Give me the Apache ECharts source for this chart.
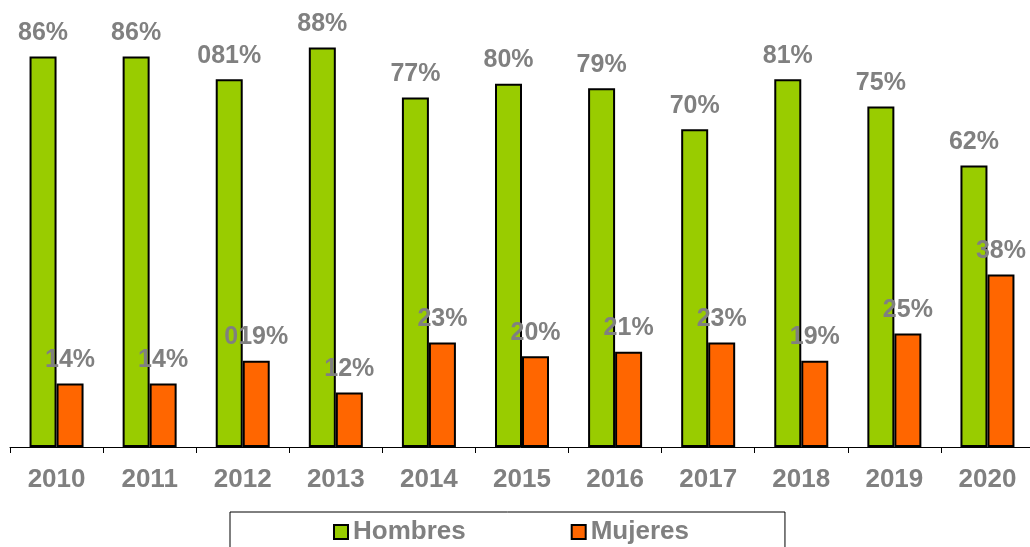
<!DOCTYPE html>
<html>
<head>
<meta charset="utf-8">
<script src="https://cdn.jsdelivr.net/npm/echarts@6/dist/echarts.min.js"></script>
<style>
  html, body { margin: 0; padding: 0; background: #fff; }
  #chart { width: 1030px; height: 547px; }
</style>
</head>
<body>
<div id="chart"></div>
<script>
// datos
var years = ["2010", "2011", "2012", "2013", "2014", "2015", "2016", "2017", "2018", "2019", "2020"];
var hombres = [86, 86, 81, 88, 77, 80, 79, 70, 81, 75, 62];
var mujeres = [14, 14, 19, 12, 23, 20, 21, 23, 19, 25, 38];
var hombresLabels = ["86%", "86%", "081%", "88%", "77%", "80%", "79%", "70%", "81%", "75%", "62%"];
var mujeresLabels = ["14%", "14%", "019%", "12%", "23%", "20%", "21%", "23%", "19%", "25%", "38%"];

var gris = "#808080";
var fuente = "Liberation Sans, Arial, sans-serif";

var chart = echarts.init(document.getElementById("chart"));
chart.setOption({
  animation: false,
  textStyle: { fontFamily: fuente },
  grid: { left: 10, right: -4, top: -7, bottom: 100, outerBoundsMode: "none" },
  legend: {
    left: 230,
    top: 512,
    padding: [7, 96, 30, 103],
    borderColor: "#000",
    borderWidth: 1,
    itemGap: 105,
    itemWidth: 14,
    itemHeight: 14,
    icon: "rect",
    textStyle: { color: gris, fontSize: 26, fontWeight: "bold", fontFamily: fuente },
    data: ["Hombres", "Mujeres"]
  },
  xAxis: {
    type: "category",
    data: years,
    axisLine: { lineStyle: { color: "#000", width: 1 } },
    axisTick: { show: true, length: 6, lineStyle: { color: "#000" } },
    axisLabel: { color: gris, fontSize: 26, fontWeight: "bold", margin: 20, fontFamily: fuente }
  },
  yAxis: {
    type: "value",
    min: 0,
    max: 100,
    show: false,
    splitLine: { show: false }
  },
  series: [
    {
      name: "Hombres",
      type: "bar",
      data: hombres,
      barWidth: 27,
      barGap: "0%",
      itemStyle: { color: "#99CC00", borderColor: "#000", borderWidth: 2 },
      label: {
        show: true,
        position: "top",
        distance: 11,
        color: gris,
        fontSize: 25,
        fontWeight: "bold",
        fontFamily: fuente,
        formatter: function (p) { return hombresLabels[p.dataIndex]; }
      }
    },
    {
      name: "Mujeres",
      type: "bar",
      data: mujeres,
      barWidth: 27,
      itemStyle: { color: "#FF6600", borderColor: "#000", borderWidth: 2 },
      label: {
        show: true,
        position: "top",
        distance: 11,
        color: gris,
        fontSize: 25,
        fontWeight: "bold",
        fontFamily: fuente,
        formatter: function (p) { return mujeresLabels[p.dataIndex]; }
      }
    }
  ]
});
</script>
</body>
</html>
